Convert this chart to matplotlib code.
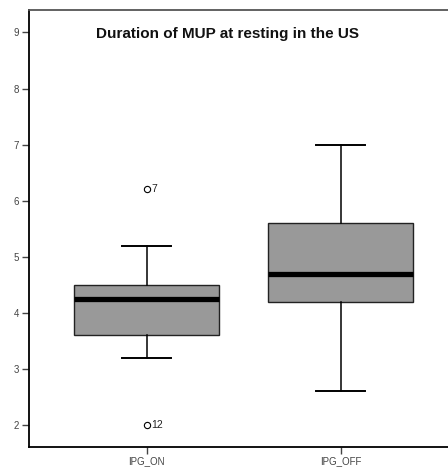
import matplotlib
matplotlib.use("Agg")
import matplotlib.pyplot as plt

plt.rcParams['font.family'] = ['Liberation Sans', 'DejaVu Sans']

groups = ["IPG_ON", "IPG_OFF"]
q1 = [3.6, 4.2]
med = [4.25, 4.7]
q3 = [4.5, 5.6]
whislo = [3.2, 2.6]
whishi = [5.2, 7.0]
fliers = [[6.2, 2.0], []]
flier_ids = [["7", "12"], []]
yticks = [2, 3, 4, 5, 6, 7, 8, 9]

stats = []
for i in range(len(groups)):
    stats.append(dict(label=groups[i], q1=q1[i], med=med[i], q3=q3[i],
                      whislo=whislo[i], whishi=whishi[i], fliers=fliers[i]))

fig = plt.figure(figsize=(4.48, 4.68), dpi=100)
ax = fig.add_axes([29/448, 21.3/468, 419/448, 436.7/468])

ax.bxp(stats, positions=[1, 2], widths=0.75, patch_artist=True,
       boxprops=dict(facecolor="#999999", edgecolor="#222222", linewidth=1.0),
       medianprops=dict(color="black", linewidth=3.8, solid_capstyle="butt"),
       whiskerprops=dict(color="black", linewidth=1.1),
       capprops=dict(color="black", linewidth=1.4),
       flierprops=dict(marker="o", markersize=4.5, markerfacecolor="white",
                       markeredgecolor="black", markeredgewidth=0.8),
       capwidths=0.25)

for i in range(len(groups)):
    for v, lab in zip(fliers[i], flier_ids[i]):
        ax.text(i + 1 + 0.025, v, lab, fontsize=7.5, va="center", ha="left", color="#222222")

ax.set_xlim(0.393, 2.553)
ax.set_ylim(1.613, 9.40)
ax.set_yticks(yticks)
ax.set_xticks([1, 2])
ax.set_xticklabels(groups)
ax.tick_params(axis="both", direction="out", length=5, width=1, colors="#444444",
               labelsize=7, pad=2)

ax.spines["right"].set_visible(False)
ax.spines["left"].set_linewidth(1.3)
ax.spines["bottom"].set_linewidth(1.3)
ax.spines["top"].set_color("#555555")
ax.spines["top"].set_linewidth(1.3)

ax.text(0.474, 0.945, "Duration of MUP at resting in the US", transform=ax.transAxes,
        ha="center", va="center", fontsize=11, fontweight="bold", color="#111111")

fig.savefig("out.png", dpi=100)
